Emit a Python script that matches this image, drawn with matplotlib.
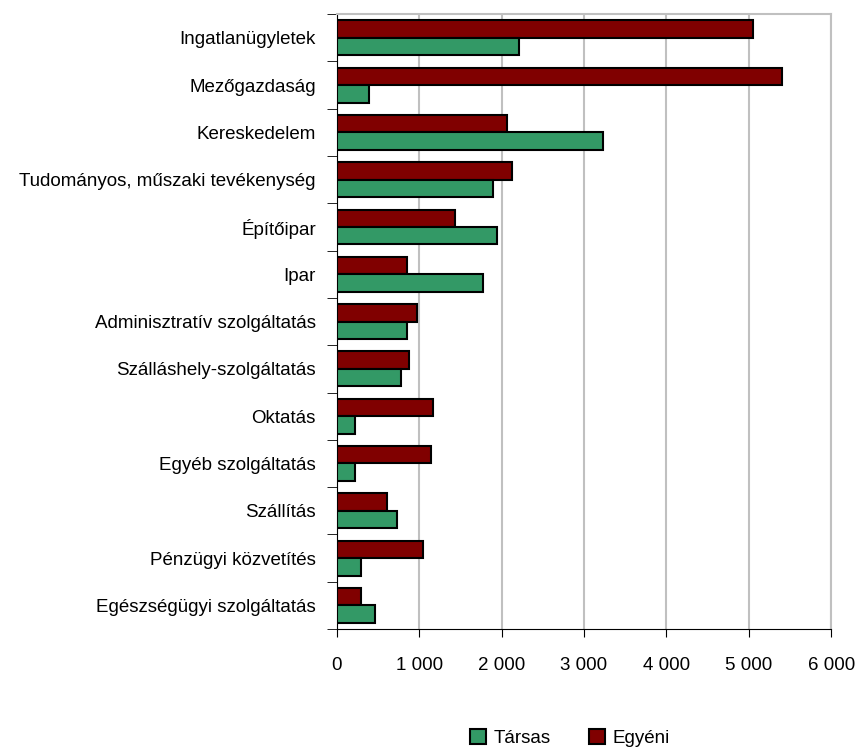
import matplotlib.pyplot as plt
import numpy as np

plt.rcParams['font.family'] = ['Liberation Sans', 'DejaVu Sans']

categories = [
    "Ingatlanügyletek", "Mezőgazdaság", "Kereskedelem",
    "Tudományos, műszaki tevékenység", "Építőipar", "Ipar",
    "Adminisztratív szolgáltatás", "Szálláshely-szolgáltatás", "Oktatás",
    "Egyéb szolgáltatás", "Szállítás", "Pénzügyi közvetítés",
    "Egészségügyi szolgáltatás",
]
tarsas = [2210, 390, 3230, 1900, 1940, 1775, 855, 775, 220, 220, 730, 290, 465]
egyeni = [5050, 5400, 2070, 2120, 1440, 855, 975, 880, 1170, 1145, 610, 1050, 290]
xticks = [0, 1000, 2000, 3000, 4000, 5000, 6000]
xtick_labels = ["0", "1 000", "2 000", "3 000", "4 000", "5 000", "6 000"]

fig = plt.figure(figsize=(8.57, 7.47), dpi=100)
ax = fig.add_axes([0.393, 0.158, 0.577, 0.823])

n = len(categories)
y = np.arange(n)
h = 0.37
ax.barh(y - h / 2, egyeni, height=h, color="#800000", edgecolor="black",
        linewidth=1.5, label="Egyéni", zorder=3)
ax.barh(y + h / 2, tarsas, height=h, color="#339966", edgecolor="black",
        linewidth=1.5, label="Társas", zorder=3)

ax.set_ylim(n - 0.5, -0.5)
ax.set_xlim(0, 6000)
ax.set_yticks(y)
ax.set_yticklabels(categories, fontsize=13.5)
ax.set_yticks(np.arange(n + 1) - 0.5, minor=True)
ax.tick_params(axis="y", which="major", length=0, pad=15)
ax.tick_params(axis="y", which="minor", length=7, direction="out", color="black")
ax.set_xticks(xticks)
ax.set_xticklabels(xtick_labels, fontsize=13.5)
ax.tick_params(axis="x", length=6, direction="out", pad=14)

ax.grid(axis="x", color="#c0c0c0", linewidth=1.5, zorder=0)
ax.spines["top"].set_color("#c0c0c0")
ax.spines["right"].set_color("#c0c0c0")
ax.spines["top"].set_linewidth(1.5)
ax.spines["right"].set_linewidth(1.5)

handles, labels = ax.get_legend_handles_labels()
fig.legend(handles[::-1], labels[::-1], loc="center", bbox_to_anchor=(0.665, 0.012),
           ncol=2, frameon=False, fontsize=13.5, handlelength=0.9, handleheight=0.9,
           columnspacing=2.0, handletextpad=0.4)

fig.savefig("out.png", dpi=100)
